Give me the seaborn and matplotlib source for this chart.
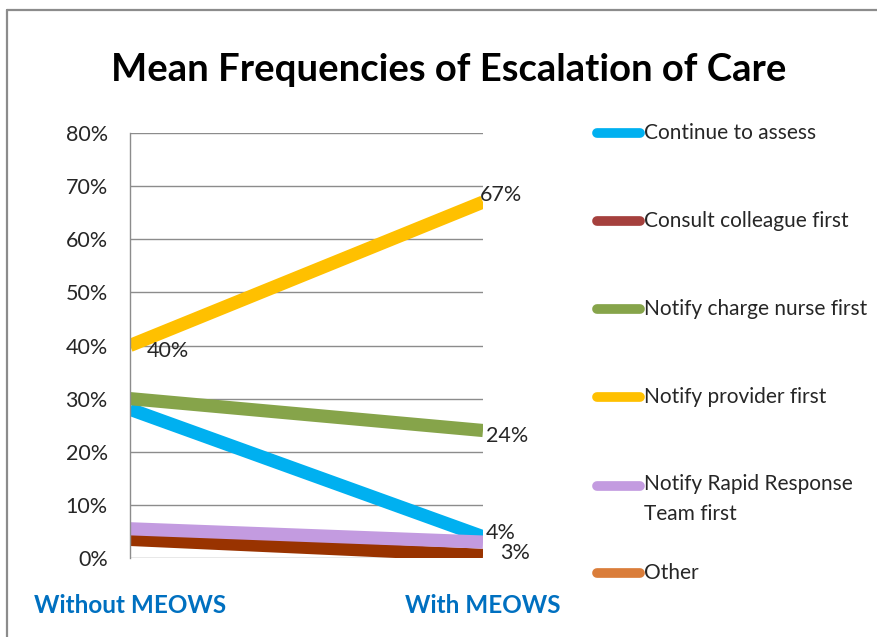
import numpy as np
import pandas as pd
import seaborn as sns
import matplotlib
matplotlib.use("Agg")
import matplotlib.pyplot as plt
from matplotlib.lines import Line2D

# ---- data ----
conditions = ["Without MEOWS", "With MEOWS"]
series_names = [
    "Continue to assess",
    "Consult colleague first",
    "Notify charge nurse first",
    "Notify provider first",
    "Notify Rapid Response\nTeam first",
    "Other",
]
continue_to_assess = [0.28, 0.04]
consult_colleague = [0.035, 0.005]
charge_nurse = [0.30, 0.24]
provider = [0.40, 0.67]
rapid_response = [0.055, 0.03]
other = [np.nan, np.nan]

y_ticks = [0.0, 0.1, 0.2, 0.3, 0.4, 0.5, 0.6, 0.7, 0.8]

line_colors = ["#00B0F0", "#993300", "#86A44A", "#FFC000", "#C39BE0", "#E07B39"]
legend_colors = ["#00B0F0", "#A5403D", "#86A44A", "#FFC000", "#C39BE0", "#DA7D3A"]

values = [continue_to_assess, consult_colleague, charge_nurse,
          provider, rapid_response, other]

rows = []
for name, vals in zip(series_names, values):
    for i, v in enumerate(vals):
        rows.append({"series": name, "pos": i, "value": v})
df = pd.DataFrame(rows)

# ---- figure ----
sns.set_style("white")
plt.rcParams["font.family"] = ["Lato", "DejaVu Sans"]

fig = plt.figure(figsize=(8.78, 6.37), dpi=100)
ax = fig.add_axes([130 / 878, 1 - 558 / 637, (483 - 130) / 878, (558 - 133) / 637])

sns.lineplot(
    data=df.dropna(), x="pos", y="value", hue="series",
    hue_order=series_names, palette=dict(zip(series_names, line_colors)),
    linewidth=9.5, legend=False, ax=ax, sort=False,
)
for ln in ax.get_lines():
    ln.set_solid_capstyle("butt")

ax.set_xlim(0, 1)
ax.set_ylim(0, 0.8)
ax.set_yticks(y_ticks)
ax.set_yticklabels([f"{int(round(t * 100))}%" for t in y_ticks],
                   fontsize=15.5, color="#262626")
ax.set_xticks([0, 1])
ax.set_xticklabels(conditions, fontsize=17.5, fontweight="bold", color="#0070C0")
ax.tick_params(axis="y", length=0, pad=16)
ax.tick_params(axis="x", length=0, pad=26)
ax.set_xlabel("")
ax.set_ylabel("")
ax.grid(axis="y", color="#8C8C8C", linewidth=1.0)
ax.set_axisbelow(True)
for side in ["top", "right", "bottom"]:
    ax.spines[side].set_visible(False)
ax.spines["left"].set_color("#8C8C8C")
ax.spines["left"].set_linewidth(1.0)

# data labels
def pct(v):
    return f"{int(round(v * 100))}%"

label_style = dict(fontsize=15.5, color="#262626", textcoords="offset points",
                   va="center", ha="left", annotation_clip=False)
ax.annotate(pct(provider[0]), (0, provider[0]), xytext=(12, -4), **label_style)
ax.annotate(pct(provider[1]), (1, provider[1]), xytext=(-2, 5), **label_style)
ax.annotate(pct(charge_nurse[1]), (1, charge_nurse[1]), xytext=(2, -4), **label_style)
ax.annotate(pct(continue_to_assess[1]), (1, continue_to_assess[1]), xytext=(2, 3), **label_style)
ax.annotate(pct(rapid_response[1]), (1, rapid_response[1]), xytext=(12, -8), **label_style)

# title
fig.text(449 / 878, 1 - 70 / 637, "Mean Frequencies of Escalation of Care",
         ha="center", va="center", fontsize=27.5, fontweight="bold", color="black")

# legend
legend_y = [133, 221, 309, 397, 486, 573]
for name, col, yp in zip(series_names, legend_colors, legend_y):
    yf = 1 - yp / 637
    fig.add_artist(Line2D([597 / 878, 640 / 878], [yf, yf], color=col,
                          linewidth=7, solid_capstyle="round",
                          transform=fig.transFigure))
    if "\n" in name:
        fig.text(644 / 878, 1 - (yp - 12) / 637, name, ha="left", va="top",
                 fontsize=15, color="#262626", linespacing=1.6)
    else:
        fig.text(644 / 878, yf, name, ha="left", va="center",
                 fontsize=15, color="#262626")

# outer frame (left and top edges)
fig.add_artist(Line2D([7 / 878, 7 / 878], [0, 1 - 10 / 637], color="#8C8C8C",
                      linewidth=1.6, transform=fig.transFigure))
fig.add_artist(Line2D([7 / 878, 1], [1 - 10 / 637, 1 - 10 / 637], color="#8C8C8C",
                      linewidth=1.6, transform=fig.transFigure))

fig.savefig("out.png", dpi=100)
